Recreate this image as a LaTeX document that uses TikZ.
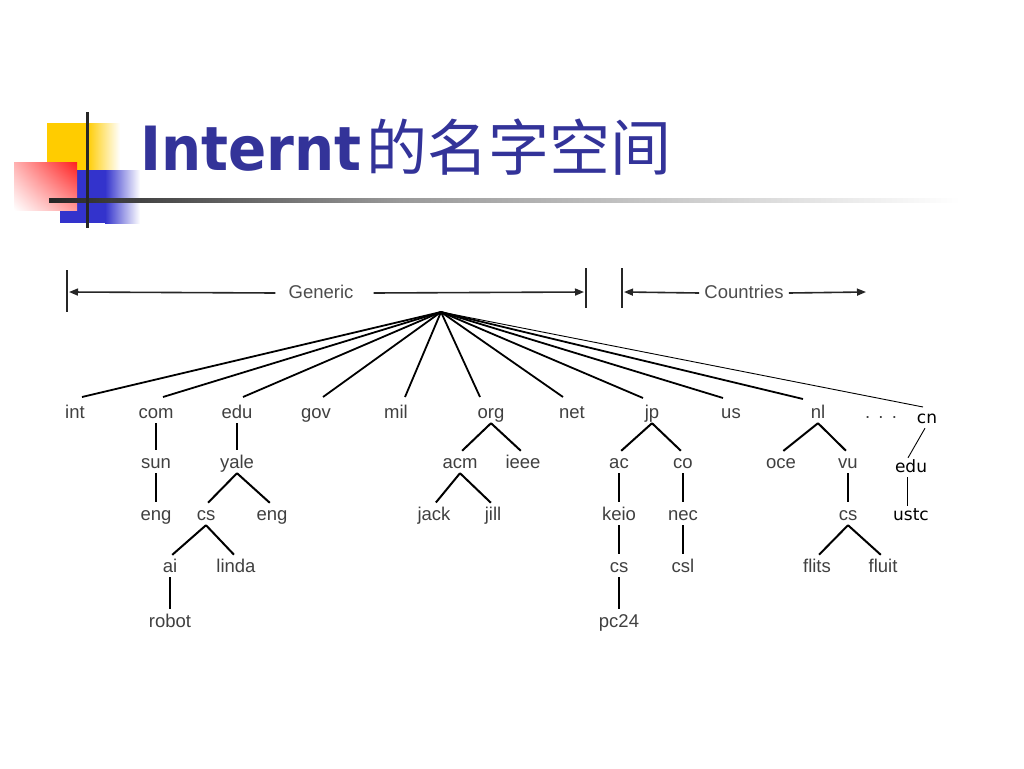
\documentclass[tikz,border=0pt]{standalone}
\usepackage{fontspec}
\setmainfont{Liberation Sans}
\newfontfamily\cjk{Noto Sans CJK SC}
\newfontfamily\dvs{DejaVu Sans}
\usetikzlibrary{arrows.meta,calc,shadings}
\definecolor{titleblue}{RGB}{51,51,153}
\definecolor{decoyellow}{RGB}{255,204,0}
\definecolor{decoblue}{RGB}{51,51,204}
\definecolor{decored}{RGB}{255,30,30}
\definecolor{labelgray}{RGB}{64,64,64}
\begin{document}
\begin{tikzpicture}[x=1pt,y=-1pt,
  lab/.style={font=\fontsize{18.5}{20}\selectfont, text=labelgray, anchor=base, inner sep=1pt, text height=14pt, text depth=4pt},
  cnlab/.style={font=\dvs\fontsize{17}{19}\selectfont, text=black, anchor=base, inner sep=1pt, text height=13pt, text depth=4pt},
  edge/.style={line width=2pt, black, shorten >=3pt},
  rootedge/.style={line width=1.8pt, black},
  thinedge/.style={line width=0.9pt, black},
  bracket/.style={line width=1.6pt, black!85},
  tip/.style={-{Triangle[length=9pt,width=7pt]}}
]
\useasboundingbox (0,0) rectangle (1024,768);

% title decoration
\fill[decoyellow] (47,123) rectangle (87,210);
\shade[left color=decoyellow, right color=white] (87,123) rectangle (120,170);
\fill[decoblue] (60,170) rectangle (105,223);
\shade[left color=decoblue, right color=white] (105,170) rectangle (140,223);
\shade[upper right=decored, upper left=decored!35, lower right=decored!45, lower left=white] (14,162) rectangle (77,210);
\shade[left color=black!85, right color=black!40] (49,198.5) rectangle (400,202.5);
\shade[left color=black!40, right color=white] (400,198.5) rectangle (960,202.5);
\draw[line width=3pt, black!85] (87,112) -- (87,228);

% title
\node[anchor=base west, inner sep=0, text=titleblue, font=\dvs\bfseries\fontsize{61}{61}\selectfont, xscale=0.925] (title) at (140,170) {Internt};
\node[anchor=base west, inner sep=0, text=titleblue, font=\cjk\fontsize{61}{61}\selectfont] (titlecn) at (366,170) {的名字空间};

% brackets
\coordinate (gbar1t) at (67,270); \coordinate (gbar1b) at (67,312);
\coordinate (gbar2t) at (586,268); \coordinate (gbar2b) at (586,308);
\coordinate (cbart) at (622,268); \coordinate (cbarb) at (622,308);
\coordinate (gl) at (69,292); \coordinate (gr) at (584,292);
\coordinate (cl) at (624,292); \coordinate (cr) at (866,292);
\draw[bracket] (gbar1t) -- (gbar1b);
\draw[bracket] (gbar2t) -- (gbar2b);
\draw[bracket] (cbart) -- (cbarb);
\node[lab, text=black!70] (generic) at (321,298) {Generic};
\node[lab, text=black!70] (countries) at (744,298) {Countries};
\draw[bracket, tip] ([xshift=-12pt]generic.west) -- (gl);
\draw[bracket, tip] ([xshift=19pt]generic.east) -- (gr);
\draw[bracket, tip] ([xshift=-4pt]countries.west) -- (cl);
\draw[bracket, tip] ([xshift=4pt]countries.east) -- (cr);

\coordinate (root) at (441,312);

% level 1
\node[lab] (int) at (75,418) {int};
\node[lab] (com) at (156,418) {com};
\node[lab] (edu) at (237,418) {edu};
\node[lab] (gov) at (316,418) {gov};
\node[lab] (mil) at (396,418) {mil};
\node[lab] (org) at (491,418) {org};
\node[lab] (net) at (572,418) {net};
\node[lab] (jp) at (652,418) {jp};
\node[lab] (us) at (731,418) {us};
\node[lab] (nl) at (818,418) {nl};
\node[lab] (dots) at (881,418) {.\ \,.\ \,.};
\node[cnlab] (cn) at (927,423) {cn};

% level 2
\node[lab] (sun) at (156,468) {sun};
\node[lab] (yale) at (237,468) {yale};
\node[lab] (acm) at (460,468) {acm};
\node[lab] (ieee) at (523,468) {ieee};
\node[lab] (ac) at (619,468) {ac};
\node[lab] (co) at (683,468) {co};
\node[lab] (oce) at (781,468) {oce};
\node[lab] (vu) at (848,468) {vu};
\node[cnlab] (cnedu) at (911,472) {edu};

% level 3
\node[lab] (eng1) at (156,520) {eng};
\node[lab] (cs1) at (206,520) {cs};
\node[lab] (eng2) at (272,520) {eng};
\node[lab] (jack) at (434,520) {jack};
\node[lab] (jill) at (493,520) {jill};
\node[lab] (keio) at (619,520) {keio};
\node[lab] (nec) at (683,520) {nec};
\node[lab] (cs3) at (848,520) {cs};
\node[cnlab] (ustc) at (911,520) {ustc};

% level 4
\node[lab] (ai) at (170,572) {ai};
\node[lab] (linda) at (236,572) {linda};
\node[lab] (cs2) at (619,572) {cs};
\node[lab] (csl) at (683,572) {csl};
\node[lab] (flits) at (817,572) {flits};
\node[lab] (fluit) at (883,572) {fluit};

% level 5
\node[lab] (robot) at (170,627) {robot};
\node[lab] (pc24) at (619,627) {pc24};

% root lines
\draw[rootedge] (root) -- ($(int.base)+(7,-21)$);
\draw[rootedge] (root) -- ($(com.base)+(7,-21)$);
\draw[rootedge] (root) -- ($(edu.base)+(6,-21)$);
\draw[rootedge] (root) -- ($(gov.base)+(7,-21)$);
\draw[rootedge] (root) -- ($(mil.base)+(9,-21)$);
\draw[rootedge] (root) -- ($(org.base)+(-11,-21)$);
\draw[rootedge] (root) -- ($(net.base)+(-9,-21)$);
\draw[rootedge] (root) -- ($(jp.base)+(-9,-20)$);
\draw[rootedge] (root) -- ($(us.base)+(-8,-20)$);
\draw[rootedge] (root) -- ($(nl.base)+(-15,-19)$);
\draw[thinedge] (root) -- ($(cn.base)+(-4,-16)$);

% subtree edges
\draw[edge] (com.south) -- (sun.north);
\draw[edge] (sun.south) -- (eng1.north);
\draw[edge] (edu.south) -- (yale.north);
\draw[edge] (yale.south) -- (cs1.north);
\draw[edge] (yale.south) -- (eng2.north);
\draw[edge] (cs1.south) -- (ai.north);
\draw[edge] (cs1.south) -- (linda.north);
\draw[edge] (ai.south) -- (robot.north);
\draw[edge] (org.south) -- (acm.north);
\draw[edge] (org.south) -- (ieee.north);
\draw[edge] (acm.south) -- (jack.north);
\draw[edge] (acm.south) -- (jill.north);
\draw[edge] (jp.south) -- (ac.north);
\draw[edge] (jp.south) -- (co.north);
\draw[edge] (ac.south) -- (keio.north);
\draw[edge] (keio.south) -- (cs2.north);
\draw[edge] (cs2.south) -- (pc24.north);
\draw[edge] (co.south) -- (nec.north);
\draw[edge] (nec.south) -- (csl.north);
\draw[edge] (nl.south) -- (oce.north);
\draw[edge] (nl.south) -- (vu.north);
\draw[edge] (vu.south) -- (cs3.north);
\draw[edge] (cs3.south) -- (flits.north);
\draw[edge] (cs3.south) -- (fluit.north);
\draw[thinedge] ([xshift=-2pt]cn.south) -- ([xshift=-3pt]cnedu.north);
\draw[thinedge] ([xshift=-4pt]cnedu.south) -- ([xshift=-4pt]ustc.north);
\end{tikzpicture}
\end{document}
